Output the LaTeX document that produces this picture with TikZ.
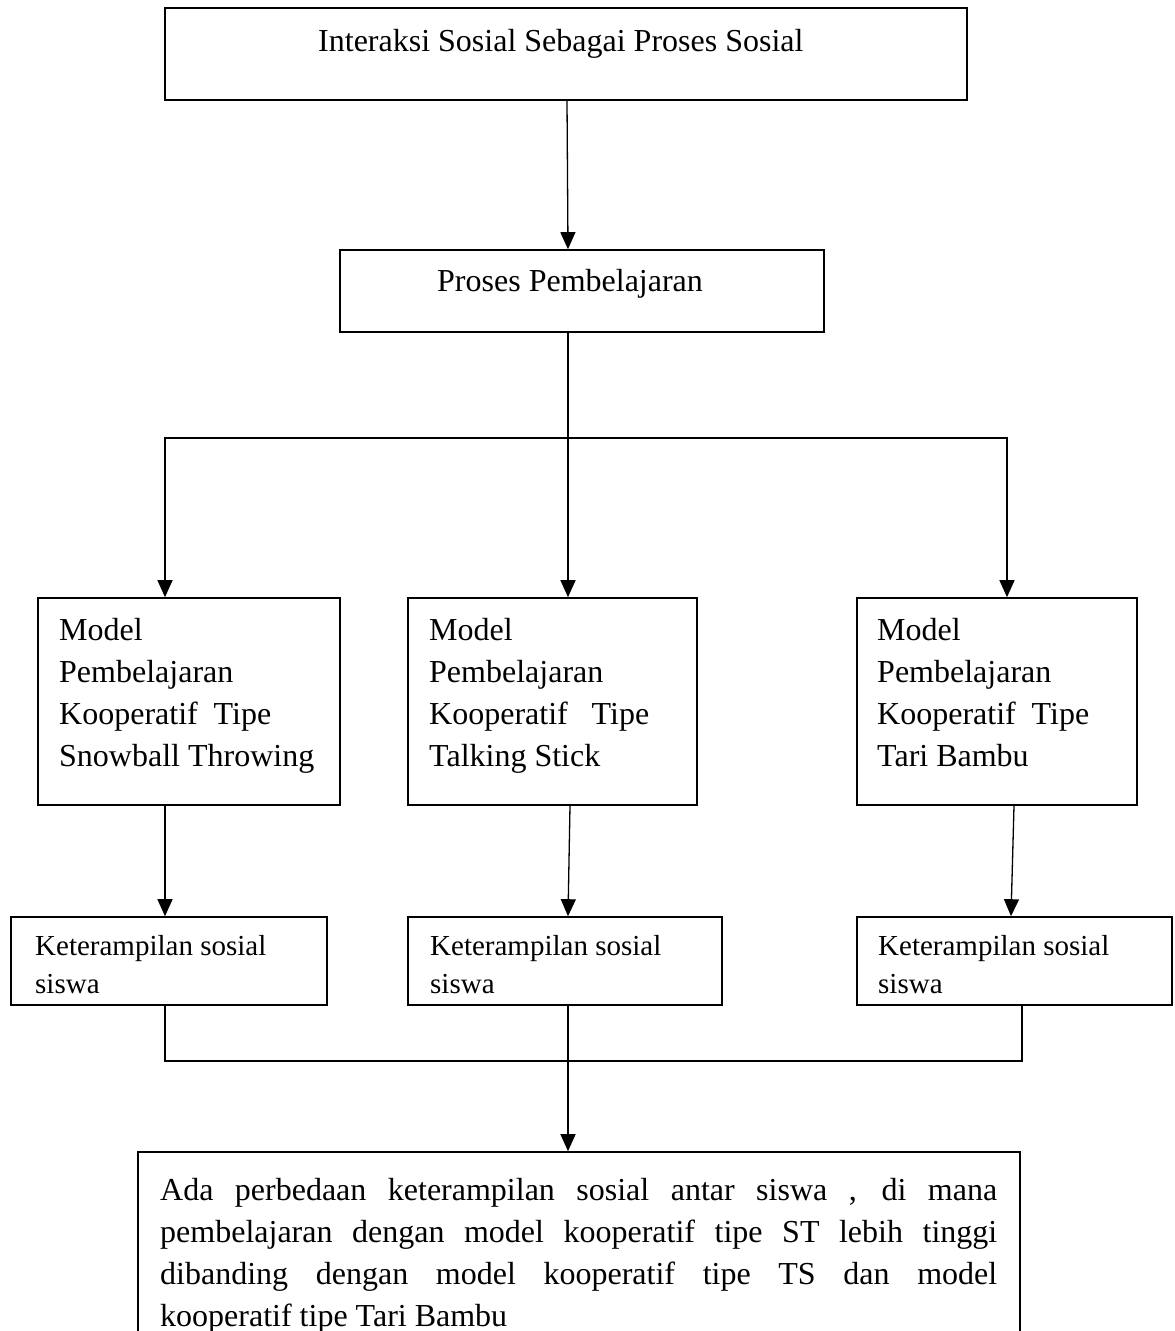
\documentclass[tikz,border=0pt]{standalone}
\usepackage{fontspec}
\setmainfont{Liberation Serif}
\usetikzlibrary{arrows.meta}
\newcommand\fontA{\fontsize{32}{42}\selectfont}
\newcommand\fontB{\fontsize{29}{38.5}\selectfont}
\tikzset{
  box/.style={draw, rectangle, line width=1.6pt, inner sep=0pt},
  conn/.style={line width=1.3pt},
  arr/.style={conn, -{Triangle[length=17pt,width=15pt]}},
  lbl/.style={anchor=base west, inner sep=0pt},
}
\begin{document}
\begin{tikzpicture}[x=1pt,y=-1pt]
\useasboundingbox (0,0) rectangle (1175,1331);
\clip (0,0) rectangle (1175,1331);
% boxes
\node[box, minimum width=802pt, minimum height=92pt] (top) at (566,54) {};
\node[box, minimum width=484pt, minimum height=82pt] (pros) at (582,291) {};
\node[box, minimum width=302pt, minimum height=207pt] (m1) at (189,701.5) {};
\node[box, minimum width=289pt, minimum height=207pt] (m2) at (552.5,701.5) {};
\node[box, minimum width=280pt, minimum height=207pt] (m3) at (997,701.5) {};
\node[box, minimum width=316pt, minimum height=88pt] (k1) at (169,961) {};
\node[box, minimum width=314pt, minimum height=88pt] (k2) at (565,961) {};
\node[box, minimum width=315pt, minimum height=88pt] (k3) at (1014.5,961) {};
\node[box, minimum width=882pt, minimum height=200pt] (concl) at (579,1252) {};
% texts
\node[lbl] (ttop) at (318,51) {\fontA Interaksi Sosial Sebagai Proses Sosial};
\node[lbl] (tpros) at (437,291) {\fontA Proses Pembelajaran};
\node[lbl] (tm1) at (59,640) {\parbox[t]{300pt}{\fontA Model\\Pembelajaran\\\makebox[212pt][s]{Kooperatif Tipe}\\Snowball Throwing}};
\node[lbl] (tm2) at (429,640) {\parbox[t]{280pt}{\fontA Model\\Pembelajaran\\\makebox[220pt][s]{Kooperatif Tipe}\\Talking Stick}};
\node[lbl] (tm3) at (877,640) {\parbox[t]{260pt}{\fontA Model\\Pembelajaran\\\makebox[212pt][s]{Kooperatif Tipe}\\Tari Bambu}};
\node[lbl] (tk1) at (35,955) {\parbox[t]{290pt}{\fontB Keterampilan sosial\\siswa}};
\node[lbl] (tk2) at (430,955) {\parbox[t]{290pt}{\fontB Keterampilan sosial\\siswa}};
\node[lbl] (tk3) at (878,955) {\parbox[t]{290pt}{\fontB Keterampilan sosial\\siswa}};
\node[lbl] (tconcl) at (160,1200) {\parbox[t]{837pt}{\fontA\hyphenpenalty=10000\relax
Ada perbedaan keterampilan sosial antar siswa , di mana\linebreak
pembelajaran dengan model kooperatif tipe ST lebih tinggi\linebreak
dibanding dengan model kooperatif tipe TS dan model\linebreak
kooperatif tipe Tari Bambu}};
% helper coordinates
\coordinate (br) at (568,438);
\coordinate (jn) at (568,1061);
% connectors
\draw[arr] ([xshift=1pt]top.south) -- ([xshift=-14pt]pros.north);
\draw[conn] ([xshift=-14pt]pros.south) -- (br);
\draw[arr] (br) -| ([xshift=-24pt]m1.north);
\draw[arr] (br) -- ([xshift=15.5pt]m2.north);
\draw[arr] (br) -| ([xshift=10pt]m3.north);
\draw[arr] ([xshift=-24pt]m1.south) -- ([xshift=-4pt]k1.north);
\draw[arr] ([xshift=17.5pt]m2.south) -- ([xshift=3pt]k2.north);
\draw[arr] ([xshift=17pt]m3.south) -- ([xshift=-3.5pt]k3.north);
\draw[conn] ([xshift=-4pt]k1.south) |- (jn) -| ([xshift=7.5pt]k3.south);
\draw[arr] ([xshift=3pt]k2.south) -- ([xshift=-11pt]concl.north);
\end{tikzpicture}
\end{document}
